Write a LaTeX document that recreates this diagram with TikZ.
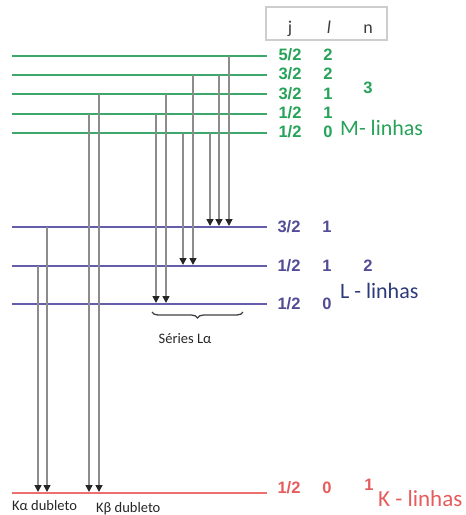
\documentclass[tikz,border=0pt]{standalone}
\usepackage{fontspec}
\setmainfont{Liberation Sans}
\newfontfamily\calfont{Carlito}
\usetikzlibrary{arrows.meta,decorations.pathreplacing}
\definecolor{mline}{RGB}{62,168,108}
\definecolor{mtext}{RGB}{38,163,88}
\definecolor{lline}{RGB}{100,94,170}
\definecolor{ltext}{RGB}{82,76,150}
\definecolor{lname}{RGB}{44,58,122}
\definecolor{kline}{RGB}{236,112,112}
\definecolor{ktext}{RGB}{230,92,92}
\definecolor{arrgray}{RGB}{140,140,140}
\definecolor{boxgray}{RGB}{205,205,205}
\definecolor{hdr}{RGB}{60,60,60}
\begin{document}
\begin{tikzpicture}[x=1pt,y=-1pt,
  level/.style={line width=1.8pt},
  arr/.style={draw=arrgray,line width=1.5pt,shorten >=1pt,
    -{Triangle[width=7pt,length=7pt,color=black!85]}},
  num/.style={font=\bfseries\fontsize{16.5}{16.5}\selectfont,inner sep=0pt},
  lname/.style={font=\calfont\fontsize{22}{22}\selectfont,inner sep=0pt,anchor=base west},
  small/.style={font=\calfont\fontsize{14.5}{15}\selectfont,inner sep=0pt,text=black!85},
  hdrtxt/.style={font=\calfont\fontsize{18}{18}\selectfont,inner sep=0pt,anchor=base,text=hdr}]
\useasboundingbox (0,0) rectangle (466,515);
% level coordinates
\coordinate (M5) at (12,56);
\coordinate (M4) at (12,75);
\coordinate (M3) at (12,94);
\coordinate (M2) at (12,114);
\coordinate (M1) at (12,133);
\coordinate (L3) at (12,227);
\coordinate (L2) at (12,266);
\coordinate (L1) at (12,304);
\coordinate (K)  at (12,493);
\coordinate (R)  at (267,0);
% columns
\coordinate (c1) at (38,0);
\coordinate (c2) at (47,0);
\coordinate (c3) at (89,0);
\coordinate (c4) at (99,0);
\coordinate (c5) at (156,0);
\coordinate (c6) at (166,0);
\coordinate (c7) at (183,0);
\coordinate (c8) at (193,0);
\coordinate (c9) at (210,0);
\coordinate (c10) at (219,0);
\coordinate (c11) at (229,0);
% levels
\foreach \l in {M5,M4,M3,M2,M1}{\draw[level,mline] (\l) -- (\l -| R);}
\foreach \l in {L3,L2,L1}{\draw[level,lline] (\l) -- (\l -| R);}
\draw[level,kline] (K) -- (K -| R);
% transitions
\draw[arr] (c1 |- L2) -- (c1 |- K);
\draw[arr] (c2 |- L3) -- (c2 |- K);
\draw[arr] (c3 |- M2) -- (c3 |- K);
\draw[arr] (c4 |- M3) -- (c4 |- K);
\draw[arr] (c5 |- M2) -- (c5 |- L1);
\draw[arr] (c6 |- M3) -- (c6 |- L1);
\draw[arr] (c7 |- M1) -- (c7 |- L2);
\draw[arr] (c8 |- M4) -- (c8 |- L2);
\draw[arr] (c9 |- M1) -- (c9 |- L3);
\draw[arr] (c10 |- M4) -- (c10 |- L3);
\draw[arr] (c11 |- M5) -- (c11 |- L3);
% header box
\node[draw=boxgray,line width=1.2pt,minimum width=121pt,minimum height=33pt,inner sep=0pt] (hbox) at (326.5,23.5) {};
\node[hdrtxt] (hj) at (290,33) {j};
\node[hdrtxt] (hl) at (329,33) {\itshape l};
\node[hdrtxt] (hn) at (368,33) {n};
% M labels
\begin{scope}[every node/.style={num,text=mtext}]
\node (m5j) at (290,55) {5/2}; \node (m5l) at (328,55) {2};
\node (m4j) at (290,74) {3/2}; \node (m4l) at (328,74) {2};
\node (m3j) at (290,94) {3/2}; \node (m3l) at (328,94) {1};
\node (m2j) at (290,113) {1/2}; \node (m2l) at (328,113) {1};
\node (m1j) at (290,132) {1/2}; \node (m1l) at (328,132) {0};
\node (mn) at (368,88) {3};
\end{scope}
\node[lname,text=mtext] (mname) at (340,135) {M- linhas};
% L labels
\begin{scope}[every node/.style={num,text=ltext}]
\node (l3j) at (289,227) {3/2}; \node (l3l) at (327,227) {1};
\node (l2j) at (289,266) {1/2}; \node (l2l) at (327,266) {1};
\node (l1j) at (289,304) {1/2}; \node (l1l) at (327,304) {0};
\node (ln) at (368,266) {2};
\end{scope}
\node[lname,text=lname] (lnm) at (340,298) {L - linhas};
% K labels
\begin{scope}[every node/.style={num,text=ktext}]
\node (kj) at (289,488) {1/2}; \node (kl) at (327,488) {0};
\node (kn) at (369,485) {1};
\end{scope}
\node[lname,text=ktext,font=\calfont\fontsize{23}{23}\selectfont] (knm) at (378,506) {K - linhas};
% brace and small labels
\coordinate (b1) at (152,312);
\coordinate (b2) at (243,312);
\draw[black!75,line width=1.3pt,decorate,decoration={brace,mirror,amplitude=6pt}] (b1) -- (b2);
\node[small] (ser) at (185,339) {Séries Lα};
\node[small,anchor=west] (ka) at (12,506) {Kα dubleto};
\node[small,anchor=west] (kb) at (96,509) {Kβ dubleto};
\end{tikzpicture}
\end{document}
